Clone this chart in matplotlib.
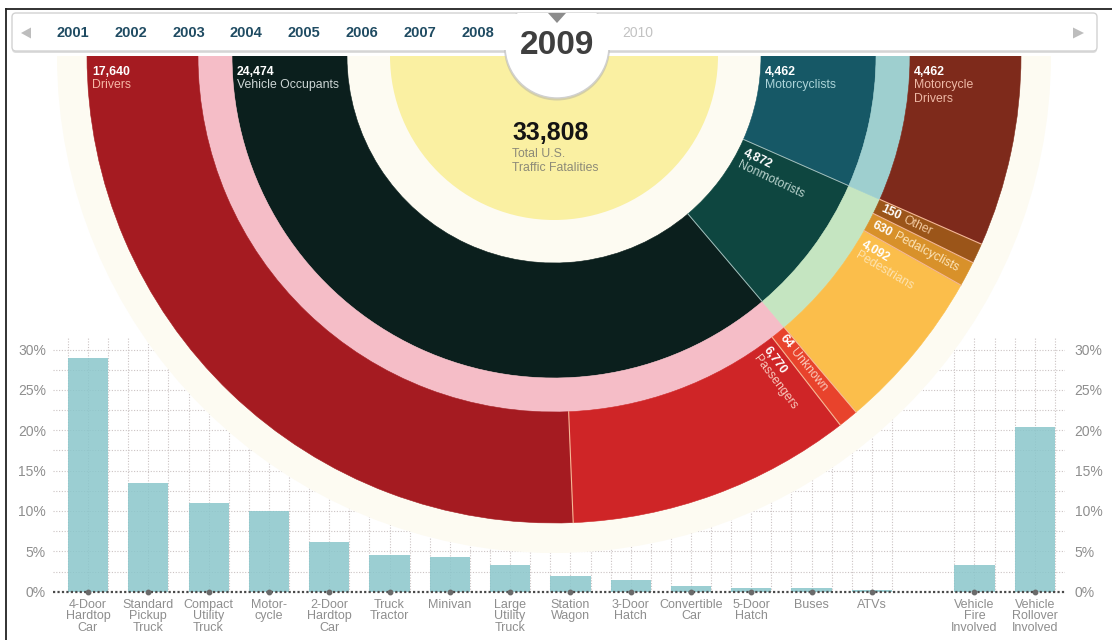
"""
Recreation of the 2009 U.S. traffic fatalities half-donut with the
vehicle-type bar chart underneath.
Output: out.png (1112x640)
"""
import numpy as np
import matplotlib; matplotlib.use("Agg"); import matplotlib.pyplot as plt
from matplotlib.patches import Wedge, Circle, FancyBboxPatch, Polygon, Rectangle
from matplotlib.font_manager import FontProperties

plt.rcParams["font.family"] = ["Liberation Sans", "DejaVu Sans"]

# ---------------- data ----------------
YEARS = ["2001", "2002", "2003", "2004", "2005", "2006", "2007", "2008", "2009", "2010"]
CURRENT = "2009"

TOTAL = 33808
GROUP_NAMES = ["Vehicle Occupants", "Nonmotorists", "Motorcyclists"]
GROUP_VALUES = [24474, 4872, 4462]

SUB_NAMES = ["Drivers", "Passengers", "Unknown", "Pedestrians", "Pedalcyclists", "Other",
             "Motorcycle\nDrivers"]
SUB_VALUES = [17640, 6770, 64, 4092, 630, 150, 4462]
SUB_GROUP = [0, 0, 0, 1, 1, 1, 2]

BAR_LABELS = ["4-Door\nHardtop\nCar", "Standard\nPickup\nTruck", "Compact\nUtility\nTruck",
              "Motor-\ncycle", "2-Door\nHardtop\nCar", "Truck\nTractor", "Minivan",
              "Large\nUtility\nTruck", "Station\nWagon", "3-Door\nHatch", "Convertible\nCar",
              "5-Door\nHatch", "Buses", "ATVs", "Vehicle\nFire\nInvolved",
              "Vehicle\nRollover\nInvolved"]
BAR_VALUES = [28.9, 13.5, 11.0, 10.0, 6.2, 4.5, 4.3, 3.3, 2.0, 1.5, 0.7, 0.5, 0.5, 0.2, 3.3, 20.4]
N_TYPES = 14          # vehicle body types; the last two bars are crash conditions
Y_TICKS = [0, 5, 10, 15, 20, 25, 30]

# ---------------- layout / style ----------------
W, H = 1112, 640
CX, CY = 554, 56                      # centre of the half donut, px from top-left
R_YEL, R1, R2, R3, R4, R_DISC = 164, 207, 322, 356, 467, 497
MIN_DEG = 2.5                         # smallest drawn slice in the outer ring

CREAM = "#fdfbf2"
YELLOW = "#faf0a2"
GROUP_COLORS = ["#0b1f1d", "#0e4640", "#165866"]
MID_COLORS = ["#f5bdc7", "#c5e5c1", "#9ecfcf"]
SUB_COLORS = ["#a51b21", "#cf2527", "#e8432c", "#fbbe4b", "#d8912a", "#9b5519", "#7e2a1b"]
GROUP_TXT = ["#cdd6d5", "#b9d3cd", "#acd4d9"]
SUB_TXT = ["#f6b8a6", "#f8c9bd", "#f9cabb", "#fde3b0", "#fde6bc", "#f3c9a0", "#eeb9a6"]
GROUP_STYLE = ["top", "radial", "top"]
SUB_STYLE = ["top", "radial", "inline", "radial", "inline", "inline", "top"]
GRAY = "#8e8e8e"
FS = 8.8

BAR_X0, BAR_STEP = 88, 60.3           # px of first bar centre, px per category
ZERO_Y, PX_PCT = 591.7, 8.07          # px of the 0% line, px per percent
AX_L, AX_R = 53, 1065


def spans(values, total_deg, min_deg):
    v = np.asarray(values, float)
    deg = v / v.sum() * total_deg
    small = deg < min_deg
    if small.any():
        rest = total_deg - min_deg * small.sum()
        deg = np.where(small, min_deg, v / v[~small].sum() * rest)
    return deg


def pol(r, a):
    t = np.radians(a)
    return r * np.cos(t), r * np.sin(t)


fig = plt.figure(figsize=(W / 100, H / 100), dpi=100, facecolor="white")
renderer = fig.canvas.get_renderer()
bold = FontProperties(family=["Liberation Sans", "DejaVu Sans"], weight="bold", size=FS)

# ---------------- bar chart grid (sits under the cream disc) ----------------
rect = [AX_L / W, (H - ZERO_Y) / H, (AX_R - AX_L) / W, 31.5 * PX_PCT / H]
xlim = ((AX_L - BAR_X0) / BAR_STEP, (AX_R - BAR_X0) / BAR_STEP)
pos = np.r_[np.arange(N_TYPES), N_TYPES + 0.7 + np.arange(len(BAR_VALUES) - N_TYPES)]

ax_g = fig.add_axes(rect)
ax_g.set_xlim(*xlim); ax_g.set_ylim(0, 31.5); ax_g.axis("off")
ax_g.set_zorder(0)
vx = np.concatenate([pos - 1 / 3, pos, pos + 1 / 3])
ax_g.vlines(vx, 0, 31.4, colors="#cbc3c3", linestyles=(0, (1, 1.5)), lw=0.8)
ax_g.hlines(np.arange(2.5, 30.1, 2.5), *xlim, colors="#cbc3c3", linestyles=(0, (1, 1.5)), lw=0.8)

# ---------------- half donut ----------------
ax_d = fig.add_axes([0, 0, 1, 1])
ax_d.set_xlim(-CX, W - CX); ax_d.set_ylim(-(H - CY), CY); ax_d.axis("off")
ax_d.set_zorder(1); ax_d.patch.set_alpha(0)

ax_d.add_patch(Wedge((0, 0), R_DISC, 180, 360, fc=CREAM, ec="none"))
ax_d.add_patch(Wedge((0, 0), R_YEL, 180, 360, fc=YELLOW, ec="none"))

g_span = np.array(GROUP_VALUES) / TOTAL * 180
g_start = 180 + np.r_[0, np.cumsum(g_span)[:-1]]
g_end = g_start + g_span
for i in range(len(GROUP_VALUES)):
    ax_d.add_patch(Wedge((0, 0), R2, g_start[i], g_end[i], width=R2 - R1,
                         fc=GROUP_COLORS[i], ec=GROUP_COLORS[i], lw=0.4))
    ax_d.add_patch(Wedge((0, 0), R3, g_start[i], g_end[i], width=R3 - R2,
                         fc=MID_COLORS[i], ec=MID_COLORS[i], lw=0.4))

sub = np.array(SUB_GROUP)
s_start = np.zeros(len(SUB_VALUES)); s_end = np.zeros(len(SUB_VALUES))
for g in range(len(GROUP_VALUES)):
    idx = np.where(sub == g)[0]
    d = spans(np.array(SUB_VALUES)[idx], g_span[g], MIN_DEG)
    st = g_start[g] + np.r_[0, np.cumsum(d)[:-1]]
    s_start[idx] = st; s_end[idx] = st + d
for j in range(len(SUB_VALUES)):
    ax_d.add_patch(Wedge((0, 0), R4, s_start[j], s_end[j], width=R4 - R3,
                         fc=SUB_COLORS[j], ec=SUB_COLORS[j], lw=0.4))

# thin separators
for a in g_end[:-1]:
    (x0, y0), (x1, y1) = pol(R1, a), pol(R2, a)
    ax_d.plot([x0, x1], [y0, y1], color="#a3bfbc", lw=0.7)
for a in s_end[:-1]:
    (x0, y0), (x1, y1) = pol(R3, a), pol(R4, a)
    ax_d.plot([x0, x1], [y0, y1], color="#f5b896", lw=0.8)


def top_label(x, num, name, col):
    ax_d.text(x, -10, f"{num:,}", color="white", fontsize=FS, fontweight="bold",
              ha="left", va="top")
    ax_d.text(x, -23, name, color=col, fontsize=FS, ha="left", va="top")


def radial_label(a0, a1, r0, num, name, col, style):
    ntxt = f"{num:,}"
    if style == "radial":
        a = a1 - np.degrees(6 / r0)
        x, y = pol(r0, a)
        rot = a - 360
        ax_d.text(x, y, ntxt, color="white", fontsize=FS, fontweight="bold", rotation=rot,
                  rotation_mode="anchor", ha="left", va="top")
        t = np.radians(a)
        dx, dy = np.sin(t) * 12.5, -np.cos(t) * 12.5
        ax_d.text(x + dx, y + dy, name, color=col, fontsize=FS, rotation=rot,
                  rotation_mode="anchor", ha="left", va="top")
    else:
        a = (a0 + a1) / 2
        x, y = pol(r0, a)
        rot = a - 360
        ax_d.text(x, y, ntxt, color="white", fontsize=FS, fontweight="bold", rotation=rot,
                  rotation_mode="anchor", ha="left", va="center")
        w = renderer.get_text_width_height_descent(ntxt, bold, ismath=False)[0] + 4
        t = np.radians(a)
        ax_d.text(x + w * np.cos(t), y + w * np.sin(t), name, color=col, fontsize=FS,
                  rotation=rot, rotation_mode="anchor", ha="left", va="center")


for i in range(len(GROUP_VALUES)):
    if GROUP_STYLE[i] == "top":
        x = -(R2 - 5) if g_start[i] == 180 else R1 + 4
        top_label(x, GROUP_VALUES[i], GROUP_NAMES[i], GROUP_TXT[i])
    else:
        radial_label(g_start[i], g_end[i], R1 + 6, GROUP_VALUES[i], GROUP_NAMES[i],
                     GROUP_TXT[i], GROUP_STYLE[i])
for j in range(len(SUB_VALUES)):
    if SUB_STYLE[j] == "top":
        x = -(R4 - 5) if s_start[j] == 180 else R3 + 4
        top_label(x, SUB_VALUES[j], SUB_NAMES[j], SUB_TXT[j])
    else:
        radial_label(s_start[j], s_end[j], R3 + 5, SUB_VALUES[j], SUB_NAMES[j],
                     SUB_TXT[j], SUB_STYLE[j])

ax_d.text(-42, -77, f"{TOTAL:,}", fontsize=18, fontweight="bold", color="#141414",
          ha="left", va="center")
ax_d.text(-42, -92, "Total U.S.\nTraffic Fatalities", fontsize=FS, color="#8c8a78",
          ha="left", va="top", linespacing=1.25)

# ---------------- bars ----------------
ax_b = fig.add_axes(rect)
ax_b.set_zorder(2); ax_b.patch.set_alpha(0)
ax_b.set_xlim(*xlim); ax_b.set_ylim(0, 31.5)
ax_b.bar(pos, BAR_VALUES, width=2 / 3, color="#8ac6cb", alpha=0.85, lw=0)
ax_b.axhline(0, color="#4a4a4a", ls=(0, (1, 1)), lw=1.6, clip_on=False)
ax_b.plot(pos, np.zeros(len(pos)), "o", ms=3.2, color="#6a6a6a", clip_on=False)
ax_b.set_xticks(pos, BAR_LABELS)
ax_b.tick_params(axis="x", length=0, pad=5, labelsize=9, labelcolor=GRAY)
for lab in ax_b.get_xticklabels():
    lab.set_linespacing(0.95)
ax_b.set_yticks(Y_TICKS, [f"{v}%" for v in Y_TICKS])
ax_b.tick_params(axis="y", length=0, pad=5, labelsize=10, labelcolor=GRAY)
for s in ax_b.spines.values():
    s.set_visible(False)
ax_r = ax_b.twinx()
ax_r.set_ylim(0, 31.5)
ax_r.set_yticks(Y_TICKS, [f"{v}%" for v in Y_TICKS])
ax_r.tick_params(axis="y", length=0, pad=7, labelsize=10, labelcolor=GRAY)
for s in ax_r.spines.values():
    s.set_visible(False)

# ---------------- year selector on top ----------------
ax_t = fig.add_axes([0, 0, 1, 1])
ax_t.set_xlim(0, W); ax_t.set_ylim(H, 0); ax_t.axis("off")
ax_t.set_zorder(3); ax_t.patch.set_alpha(0)

ax_t.add_patch(Rectangle((0, 0), W, CY, fc="white", ec="none"))
ax_t.add_patch(FancyBboxPatch((12, 15), 1085, 38, boxstyle="round,pad=0,rounding_size=4",
                              fc="#b5b5b5", ec="none", alpha=0.45))
ax_t.add_patch(FancyBboxPatch((12, 13), 1085, 38, boxstyle="round,pad=0,rounding_size=4",
                              fc="white", ec="#d2d2d2", lw=1))
clip = Rectangle((0, 13), W, H, transform=ax_t.transData)
sh = Circle((557, 47.5), 53, fc="#a8a8a8", ec="none", alpha=0.45)
tab = Circle((557, 46), 52, fc="white", ec="#d0d0d0", lw=1)
for p in (sh, tab):
    ax_t.add_patch(p); p.set_clip_path(clip)
ax_t.add_patch(Rectangle((500, 13.8), 114, 36.6, fc="white", ec="none"))
ax_t.add_patch(Polygon([(548, 13), (566, 13), (557, 23)], fc="#8c8c8c", ec="none"))
ax_t.add_patch(Polygon([(21, 33), (31, 27.5), (31, 38.5)], fc="#bdbdbd", ec="none"))
ax_t.add_patch(Polygon([(1073, 27.5), (1073, 38.5), (1084, 33)], fc="#bdbdbd", ec="none"))

cur = YEARS.index(CURRENT)
for k, yr in enumerate(YEARS):
    if k < cur:
        ax_t.text(73 + 57.8 * k, 33, yr, fontsize=10.5, fontweight="bold", color="#1f4b62",
                  ha="center", va="center")
    elif k == cur:
        ax_t.text(557, 46, yr, fontsize=24, fontweight="bold", color="#3f3f3f",
                  ha="center", va="center")
    else:
        ax_t.text(638 + 57.8 * (k - cur - 1), 33, yr, fontsize=10, color="#c2c2c2",
                  ha="center", va="center")

# screenshot frame
ax_t.plot([6, W], [9, 9], color="#222222", lw=1.3)
ax_t.plot([6, 6], [9, H], color="#222222", lw=1.3)

fig.savefig("out.png", dpi=100, facecolor="white")
